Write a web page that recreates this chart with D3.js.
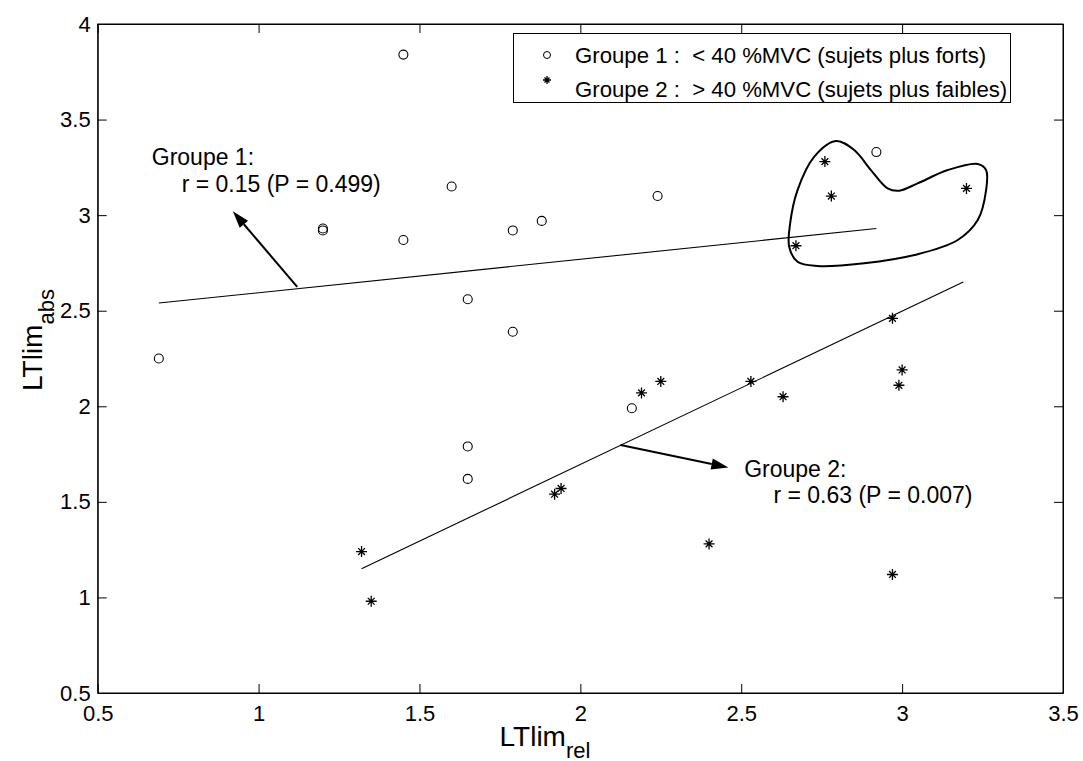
<!DOCTYPE html>
<html>
<head>
<meta charset="utf-8">
<script src="https://cdn.jsdelivr.net/npm/d3@7"></script>
<style>
  html, body { margin: 0; padding: 0; background: #fff; }
  svg { display: block; font-family: "Liberation Sans", Arial, sans-serif; }
  text { fill: #000; }
</style>
</head>
<body>
<svg id="chart" width="1083" height="761"></svg>
<script>
// Groupe 1 (circles)
var g1x = [0.69, 1.20, 1.20, 1.45, 1.45, 1.60, 1.65, 1.65, 1.65, 1.79, 1.79, 1.88, 2.16, 2.24, 2.92];
var g1y = [2.25, 2.93, 2.92, 3.84, 2.87, 3.15, 2.56, 1.79, 1.62, 2.92, 2.39, 2.97, 1.99, 3.10, 3.33];
// Groupe 2 (stars)
var g2x = [1.32, 1.35, 1.92, 1.94, 2.19, 2.25, 2.40, 2.53, 2.63, 2.67, 2.76, 2.78, 2.97, 2.97, 2.99, 3.00, 3.20];
var g2y = [1.24, 0.98, 1.54, 1.57, 2.07, 2.13, 1.28, 2.13, 2.05, 2.84, 3.28, 3.10, 2.46, 1.12, 2.11, 2.19, 3.14];
// regression lines (end points)
var fit1x = [0.69, 2.92], fit1y = [2.54, 2.93];
var fit2x = [1.32, 3.19], fit2y = [1.15, 2.65];
// arrows: [fromX, fromY, toX, toY]
var arrow1 = [1.12, 2.625, 0.92, 3.02];
var arrow2 = [2.125, 1.797, 2.46, 1.68];
// hand-drawn loop around the outliers
var loopX = [2.794, 2.727, 2.675, 2.652, 2.649, 2.675, 2.737, 2.882, 3.038, 3.173, 3.235, 3.261, 3.261, 3.235, 3.142, 3.048, 2.991, 2.955, 2.903, 2.851];
var loopY = [3.388, 3.306, 3.131, 2.957, 2.835, 2.756, 2.734, 2.748, 2.791, 2.870, 2.974, 3.131, 3.236, 3.268, 3.236, 3.166, 3.128, 3.140, 3.236, 3.341];
var xTicks = [0.5, 1, 1.5, 2, 2.5, 3, 3.5];
var yTicks = [0.5, 1, 1.5, 2, 2.5, 3, 3.5, 4];
var legendLabels = ["Groupe 1 :  < 40 %MVC (sujets plus forts)", "Groupe 2 :  > 40 %MVC (sujets plus faibles)"];
var notes = [
  { x: 0.668, y: 3.262, t: "Groupe 1:" },
  { x: 0.761, y: 3.121, t: "r = 0.15 (P = 0.499)" },
  { x: 2.509, y: 1.631, t: "Groupe 2:" },
  { x: 2.600, y: 1.493, t: "r = 0.63 (P = 0.007)" }
];

var L = 97.7, R = 1063, T = 24, B = 693;
var x = d3.scaleLinear().domain([0.5, 3.5]).range([L, R]);
var y = d3.scaleLinear().domain([0.5, 4]).range([B, T]);
var svg = d3.select("#chart");
svg.append("rect").attr("width", 1083).attr("height", 761).attr("fill", "#fff");

// axes box with inward ticks
var fmt = function (d) { return String(d); };
svg.append("g").attr("transform", "translate(0," + B + ")")
  .call(d3.axisBottom(x).tickValues(xTicks).tickFormat(fmt).tickSizeInner(-9).tickSizeOuter(0).tickPadding(12));
svg.append("g").attr("transform", "translate(0," + T + ")")
  .call(d3.axisTop(x).tickValues(xTicks).tickFormat("").tickSizeInner(-9).tickSizeOuter(0));
svg.append("g").attr("transform", "translate(" + L + ",0)")
  .call(d3.axisLeft(y).tickValues(yTicks).tickFormat(fmt).tickSizeInner(-9).tickSizeOuter(0).tickPadding(7));
svg.append("g").attr("transform", "translate(" + R + ",0)")
  .call(d3.axisRight(y).tickValues(yTicks).tickFormat("").tickSizeInner(-9).tickSizeOuter(0));
svg.selectAll(".domain").attr("stroke", "#000").attr("stroke-width", 1);
svg.selectAll(".tick line").attr("stroke", "#000");
svg.selectAll(".tick text").attr("font-size", 22).attr("font-family", "Liberation Sans, Arial, sans-serif").attr("fill", "#000");
svg.append("rect").attr("x", L).attr("y", T).attr("width", R - L).attr("height", B - T)
  .attr("fill", "none").attr("stroke", "#000").attr("stroke-width", 1);

// axis labels
var xl = svg.append("text").attr("x", 545).attr("y", 746).attr("text-anchor", "middle").attr("font-size", 28);
xl.append("tspan").text("LTlim");
xl.append("tspan").attr("font-size", 22).attr("dy", 12).text("rel");
var yl = svg.append("text").attr("transform", "translate(42,340) rotate(-90)")
  .attr("text-anchor", "middle").attr("font-size", 28);
yl.append("tspan").text("LTlim");
yl.append("tspan").attr("font-size", 22).attr("dy", 12).text("abs");

// regression lines
var line = d3.line().x(function (d) { return x(d[0]); }).y(function (d) { return y(d[1]); });
[[fit1x, fit1y], [fit2x, fit2y]].forEach(function (f) {
  svg.append("path").attr("d", line(f[0].map(function (v, i) { return [v, f[1][i]]; })))
    .attr("fill", "none").attr("stroke", "#000").attr("stroke-width", 1.1);
});

// loop
var loop = d3.line().curve(d3.curveCatmullRomClosed.alpha(0.5))
  .x(function (d) { return x(d[0]); }).y(function (d) { return y(d[1]); });
svg.append("path").attr("d", loop(loopX.map(function (v, i) { return [v, loopY[i]]; })))
  .attr("fill", "none").attr("stroke", "#000").attr("stroke-width", 2);

// arrows
function drawArrow(a) {
  var x0 = x(a[0]), y0 = y(a[1]), x1 = x(a[2]), y1 = y(a[3]);
  var ang = Math.atan2(y1 - y0, x1 - x0), len = 17, hw = 5.5;
  var bx = x1 - Math.cos(ang) * len, by = y1 - Math.sin(ang) * len;
  svg.append("line").attr("x1", x0).attr("y1", y0).attr("x2", bx).attr("y2", by)
    .attr("stroke", "#000").attr("stroke-width", 2);
  var px = -Math.sin(ang) * hw, py = Math.cos(ang) * hw;
  svg.append("path").attr("d", "M" + x1 + "," + y1 + "L" + (bx + px) + "," + (by + py) + "L" + (bx - px) + "," + (by - py) + "Z")
    .attr("fill", "#000");
}
drawArrow(arrow1);
drawArrow(arrow2);

// markers
function star(g, cx, cy, s) {
  var d = "M" + cx + "," + (cy - s) + "V" + (cy + s) + "M" + (cx - s) + "," + cy + "H" + (cx + s);
  var k = s * 0.62;
  d += "M" + (cx - k) + "," + (cy - k) + "L" + (cx + k) + "," + (cy + k) + "M" + (cx - k) + "," + (cy + k) + "L" + (cx + k) + "," + (cy - k);
  g.append("path").attr("d", d).attr("stroke", "#000").attr("stroke-width", 1.3).attr("fill", "none");
}
var pts = svg.append("g");
g1x.forEach(function (v, i) {
  pts.append("circle").attr("cx", x(v)).attr("cy", y(g1y[i])).attr("r", 4.5)
    .attr("fill", "none").attr("stroke", "#000").attr("stroke-width", 1.1);
});
g2x.forEach(function (v, i) { star(pts, x(v), y(g2y[i]), 5.5); });

// annotations
notes.forEach(function (n) {
  svg.append("text").attr("x", x(n.x)).attr("y", y(n.y)).attr("font-size", 23).text(n.t);
});

// legend
var lg = svg.append("g");
lg.append("rect").attr("x", 513.5).attr("y", 33.5).attr("width", 497).attr("height", 69)
  .attr("fill", "#fff").attr("stroke", "#000").attr("stroke-width", 1);
lg.append("circle").attr("cx", 547).attr("cy", 55).attr("r", 3.5).attr("fill", "none").attr("stroke", "#000").attr("stroke-width", 1);
star(lg, 547, 80, 4);
legendLabels.forEach(function (t, i) {
  lg.append("text").attr("x", 575).attr("y", 63 + i * 34).attr("font-size", 22.2)
    .style("white-space", "pre").text(t);
});
</script>
</body>
</html>
